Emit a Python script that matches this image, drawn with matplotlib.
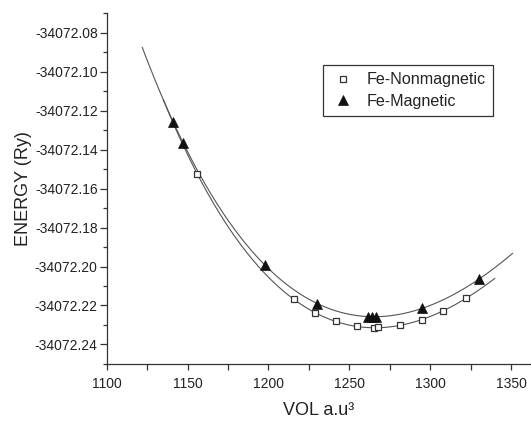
import matplotlib
matplotlib.use("Agg")
import matplotlib.pyplot as plt
import numpy as np
from matplotlib.ticker import FormatStrFormatter, MultipleLocator

plt.rcParams["font.family"] = ["Liberation Sans", "DejaVu Sans"]

# Fe-Nonmagnetic (open squares)
vol_nm = [1156.0, 1215.8, 1228.8, 1241.8, 1254.8, 1265.3, 1268.0, 1281.2, 1294.8, 1308.2, 1322.0]
e_nm = [-34072.1525, -34072.2168, -34072.2239, -34072.2281, -34072.2307, -34072.2316,
        -34072.2312, -34072.2300, -34072.2275, -34072.2228, -34072.2163]

# Fe-Magnetic (filled triangles)
vol_m = [1141.2, 1147.4, 1197.9, 1230.3, 1261.4, 1264.1, 1266.7, 1294.8, 1330.3]
e_m = [-34072.1261, -34072.1367, -34072.1993, -34072.2190, -34072.2258, -34072.2258,
       -34072.2258, -34072.2213, -34072.2065]

E0 = -34072.0


def eos_fit(v, e, vmin, vmax):
    # Birch-Murnaghan style: cubic in V^(-2/3)
    v = np.asarray(v)
    e = np.asarray(e) - E0
    c = np.polyfit(v ** (-2.0 / 3.0), e, 3)
    vv = np.linspace(vmin, vmax, 300)
    return vv, np.polyval(c, vv ** (-2.0 / 3.0)) + E0


fig = plt.figure(figsize=(5.31, 4.21), dpi=100)
ax = fig.add_axes([0.2009, 0.1354, 0.7991, 0.8337])

vv, ee = eos_fit(vol_m, e_m, 1122, 1351)
ax.plot(vv, ee, color="#555555", lw=0.8, zorder=2)
vv, ee = eos_fit(vol_nm, e_nm, 1135, 1340)
ax.plot(vv, ee, color="#555555", lw=0.8, zorder=2)

ax.plot(vol_nm, e_nm, ls="none", marker="s", ms=5, mfc="white", mec="#333333",
        mew=0.9, label="Fe-Nonmagnetic", zorder=3)
ax.plot(vol_m, e_m, ls="none", marker="^", ms=6.5, mfc="#111111", mec="#111111",
        mew=0.5, label="Fe-Magnetic", zorder=4)

ax.set_xlim(1100, 1362.4)
ax.set_ylim(-34072.25, -34072.07)
ax.set_xticks([1100, 1150, 1200, 1250, 1300, 1350])
ax.xaxis.set_minor_locator(MultipleLocator(25))
ax.set_yticks([-34072.24, -34072.22, -34072.20, -34072.18, -34072.16, -34072.14,
               -34072.12, -34072.10, -34072.08])
ax.yaxis.set_minor_locator(MultipleLocator(0.01))
ax.yaxis.set_major_formatter(FormatStrFormatter("%.2f"))

for s in ("top", "right"):
    ax.spines[s].set_visible(False)
for s in ("left", "bottom"):
    ax.spines[s].set_color("#333333")
    ax.spines[s].set_linewidth(0.9)

ax.tick_params(axis="both", which="both", direction="out", colors="#333333",
               labelcolor="#222222", labelsize=10, width=0.9)
ax.tick_params(axis="x", which="major", length=4.5, pad=5)
ax.tick_params(axis="x", which="minor", length=4.5)
ax.tick_params(axis="y", which="major", length=5, pad=1.5)
ax.tick_params(axis="y", which="minor", length=3)

ax.set_xlabel("VOL a.u³", fontsize=13, color="#222222", labelpad=8)
ax.set_ylabel("ENERGY (Ry)", fontsize=13, color="#222222", labelpad=2)

leg = ax.legend(loc="upper left", bbox_to_anchor=(0.509, 0.852), borderaxespad=0,
                fontsize=11.6, numpoints=1, handlelength=1.6, handletextpad=0.7,
                borderpad=0.45, labelspacing=0.4, fancybox=False, framealpha=1)
leg.get_frame().set_edgecolor("#333333")
leg.get_frame().set_linewidth(0.9)
for t in leg.get_texts():
    t.set_color("#222222")

fig.savefig("out.png", dpi=100, facecolor="white")
